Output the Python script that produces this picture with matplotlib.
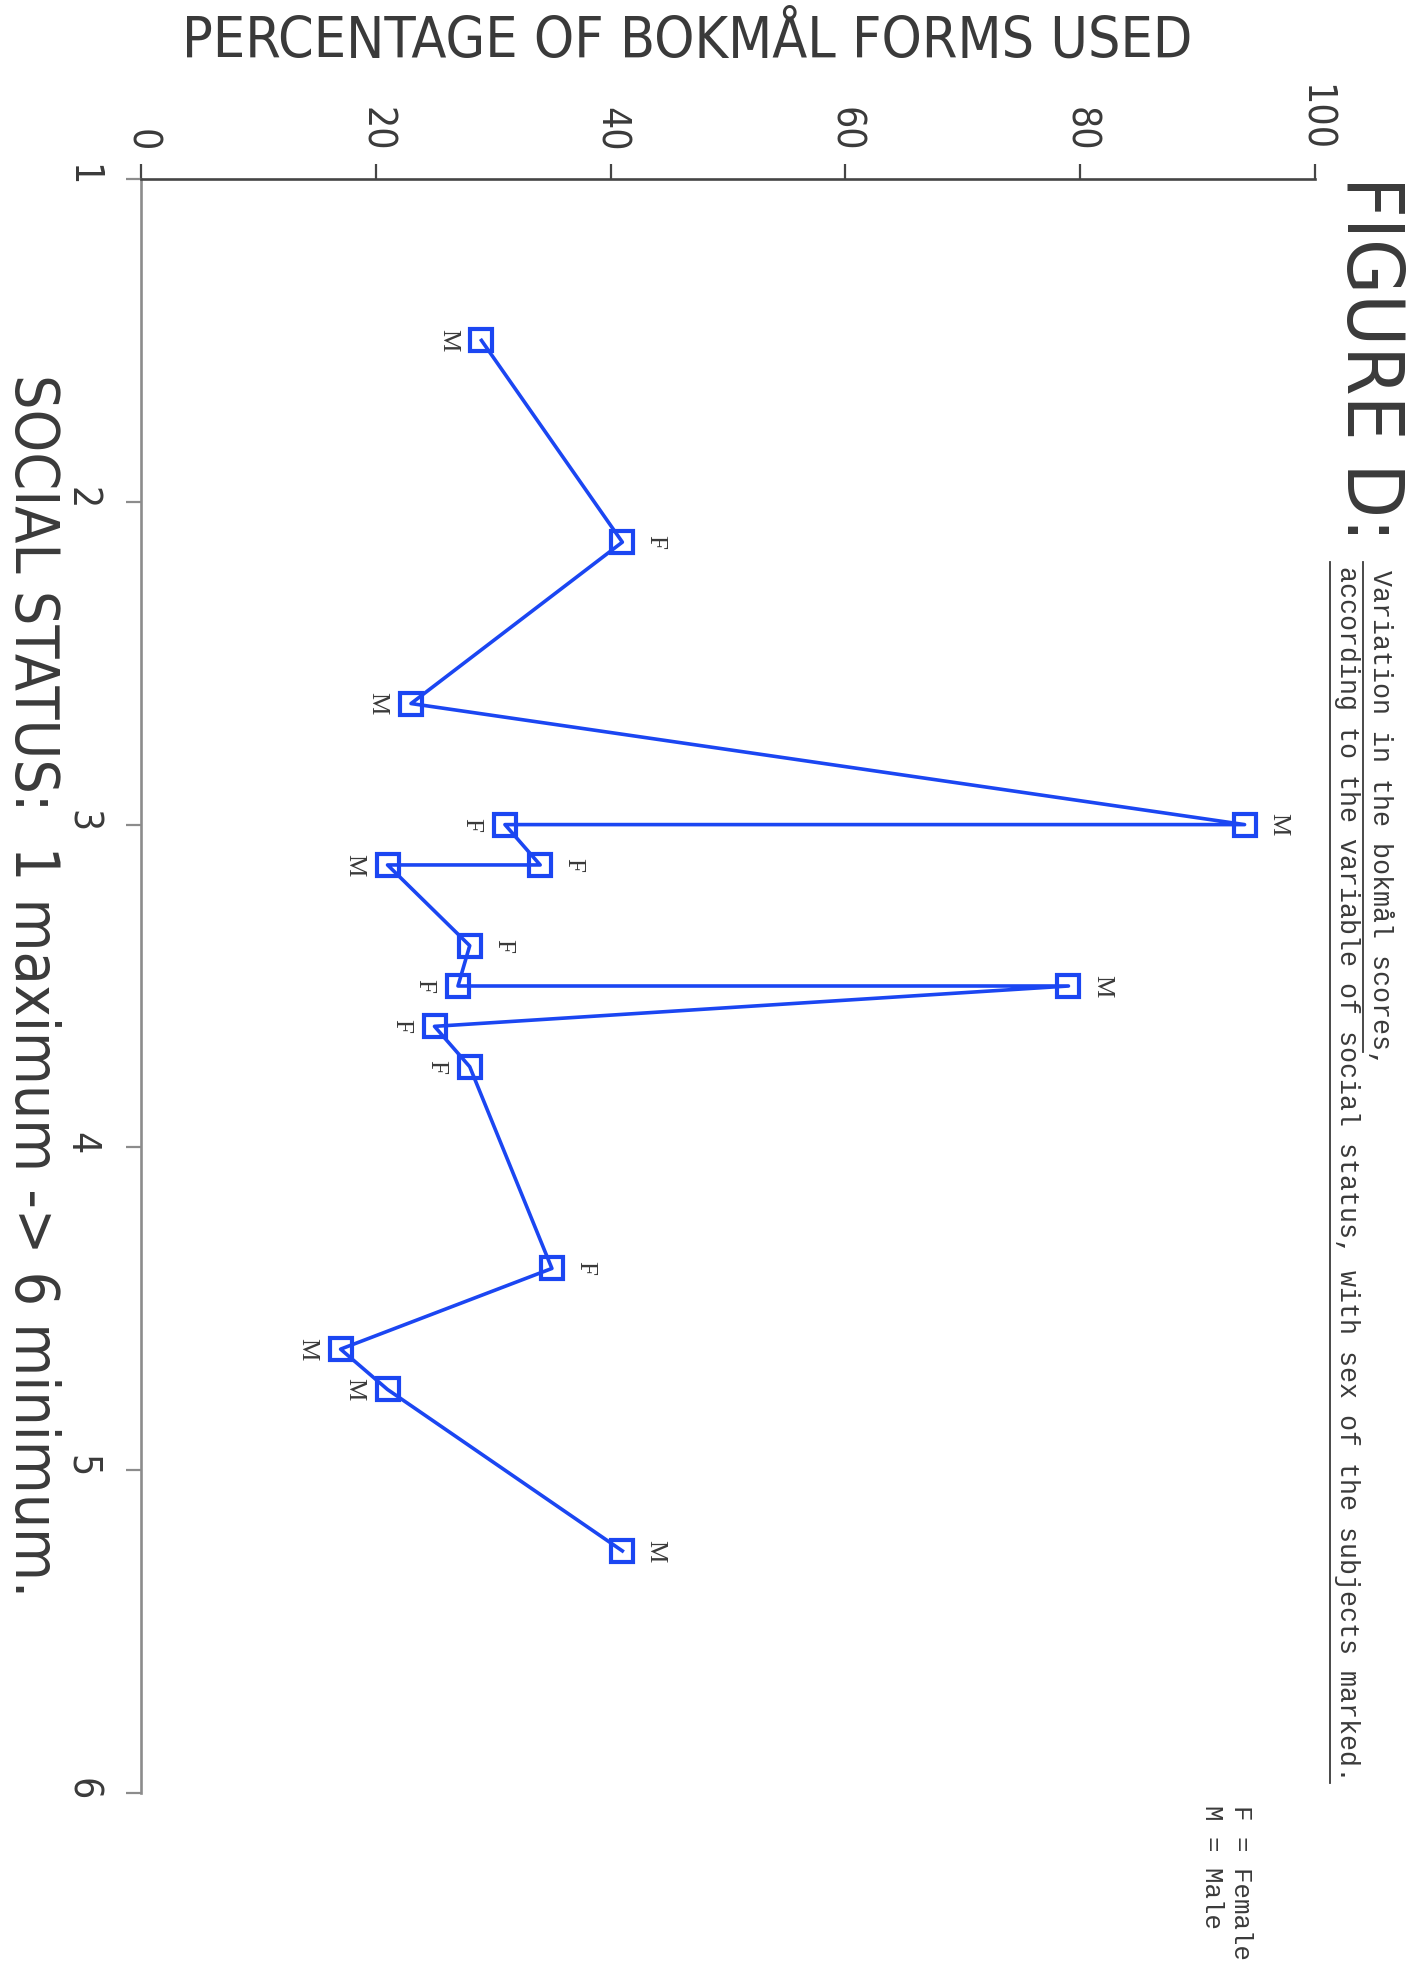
import matplotlib
matplotlib.use("Agg")
import matplotlib.pyplot as plt
from matplotlib.lines import Line2D

# Bokmål usage by social status, each subject marked by sex
status = [1.5, 2.125, 2.625, 3.0, 3.0, 3.125, 3.125, 3.375, 3.5, 3.5,
          3.625, 3.75, 4.375, 4.625, 4.75, 5.25]
percent = [29, 41, 23, 94, 31, 34, 21, 28, 27, 79, 25, 28, 35, 17, 21, 41]
sex = ["M", "F", "M", "M", "F", "F", "M", "F", "F", "M",
       "F", "F", "F", "M", "M", "M"]
label_side = ["l", "r", "l", "r", "l", "r", "l", "r", "l", "r",
              "l", "l", "r", "l", "l", "r"]

percent_ticks = [0, 20, 40, 60, 80, 100]
status_ticks = [1, 2, 3, 4, 5, 6]

title = "FIGURE D:"
subtitle_1 = "Variation in the bokmål scores,"
subtitle_2 = "according to the variable of social status, with sex of the subjects marked."
legend_lines = ["F = Female", "M = Male"]
percent_label = "PERCENTAGE OF BOKMÅL FORMS USED"
status_label = "SOCIAL STATUS:  1 maximum -> 6 minimum."

W, H = 1423, 1976
BLUE = "#1b46f2"
INK = "#3a3a3a"
PLOT_FONT = ["DejaVu Sans"]
TYPE_FONT = ["Liberation Mono", "DejaVu Sans Mono"]
LABEL_FONT = ["Liberation Serif", "DejaVu Serif"]

fig = plt.figure(figsize=(W / 100, H / 100), dpi=100)
fig.patch.set_facecolor("white")


def fx(px):
    return px / W


def fy(py):
    return 1 - py / H


ax = fig.add_axes([fx(141), fy(1793), fx(1315) - fx(141), fy(179) - fy(1793)])
ax.set_xlim(0, 100)
ax.set_ylim(6, 1)
ax.set_facecolor("none")

for side in ("right", "bottom"):
    ax.spines[side].set_visible(False)
ax.spines["top"].set_color("#454545")
ax.spines["top"].set_linewidth(1.9)
ax.spines["left"].set_color("#8c8c8c")
ax.spines["left"].set_linewidth(1.9)

ax.xaxis.tick_top()
ax.set_xticks(percent_ticks)
ax.set_yticks(status_ticks)
ax.set_xticklabels([str(t) for t in percent_ticks], family=PLOT_FONT,
                   fontstretch="condensed")
ax.set_yticklabels([str(t) for t in status_ticks], family=PLOT_FONT,
                   fontstretch="condensed")
ax.tick_params(axis="x", direction="out", length=11, width=1.6, pad=9,
               labelsize=28, labelrotation=-90, color="#454545", labelcolor=INK)
ax.tick_params(axis="y", direction="out", length=11, width=1.6, pad=18,
               labelsize=28, labelrotation=-90, color="#8c8c8c", labelcolor=INK)

ax.plot(percent, status, color=BLUE, linewidth=2.6, marker="s",
        markersize=16, markerfacecolor="none", markeredgecolor=BLUE,
        markeredgewidth=3, solid_joinstyle="round", zorder=3)

for p, s, lab, side in zip(percent, status, sex, label_side):
    dx = 24 if side == "r" else -24
    ax.annotate(lab, (p, s), xytext=(dx, 0), textcoords="offset points",
                ha="center", va="center", rotation=-90, fontsize=18,
                family=LABEL_FONT, color=INK)

# Title block along the right edge
fig.text(fx(1369), fy(359), title, rotation=-90, ha="center", va="center",
         fontsize=57, family=PLOT_FONT, fontstretch="condensed", color=INK)
fig.text(fx(1380), fy(570), subtitle_1, rotation=-90, ha="center", va="top",
         fontsize=19.2, family=TYPE_FONT, color=INK)
fig.text(fx(1347), fy(566), subtitle_2, rotation=-90, ha="center", va="top",
         fontsize=19.2, family=TYPE_FONT, color=INK)
fig.add_artist(Line2D([fx(1363), fx(1363)], [fy(562), fy(1052)],
                      color=INK, linewidth=1.3))
fig.add_artist(Line2D([fx(1330), fx(1330)], [fy(562), fy(1783)],
                      color=INK, linewidth=1.3))

# Key for the point labels
fig.text(fx(1241), fy(1805), legend_lines[0], rotation=-90, ha="center",
         va="top", fontsize=18.5, family=TYPE_FONT, color=INK)
fig.text(fx(1212), fy(1805), legend_lines[1], rotation=-90, ha="center",
         va="top", fontsize=18.5, family=TYPE_FONT, color=INK)

# Axis titles
fig.text(fx(687), fy(42), percent_label, ha="center", va="center",
         fontsize=41, family=PLOT_FONT, fontstretch="condensed", color=INK)
fig.text(fx(31), fy(986), status_label, rotation=-90, ha="center",
         va="center", fontsize=43.5, family=PLOT_FONT, fontstretch="condensed",
         color=INK)

fig.savefig("out.png", dpi=100, facecolor="white")
